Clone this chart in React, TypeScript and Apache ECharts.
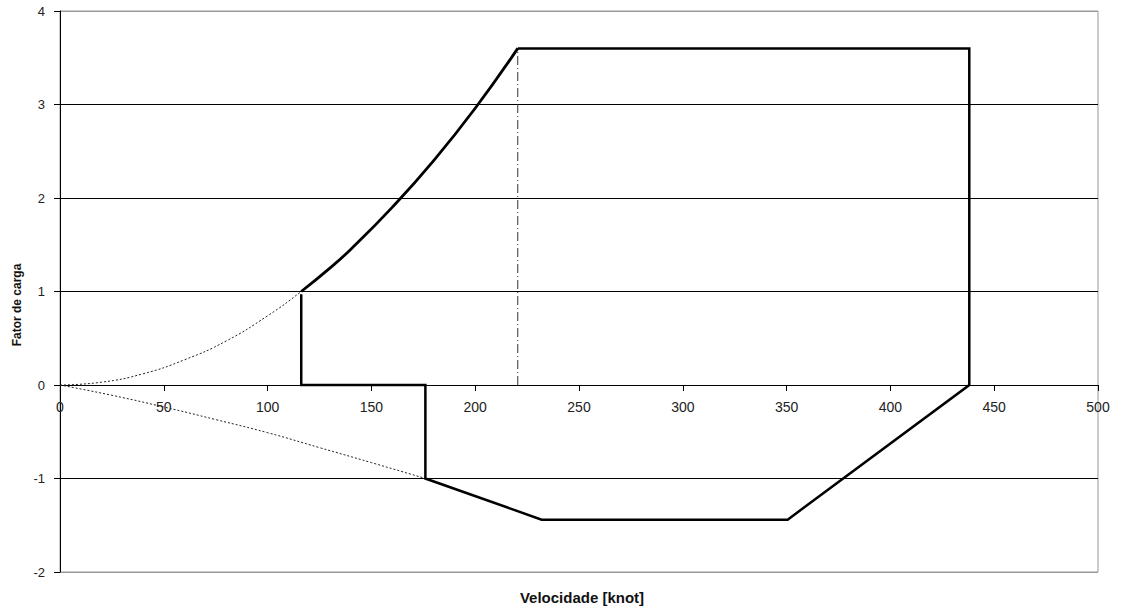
import React, { useEffect, useRef } from "react";
import * as echarts from "echarts";

// Positive stall curve (thin dotted)
const stallPosV = [0, 20, 40, 60, 80, 100, 116.2, 130, 140, 160, 180, 200, 220.5];
const stallPosN = [0, 0.03, 0.12, 0.27, 0.47, 0.74, 1.0, 1.25, 1.45, 1.9, 2.4, 2.96, 3.6];

// Negative stall curve (thin dotted)
const stallNegV = [0, 25, 50, 75, 100, 125, 150, 176];
const stallNegN = [0, -0.11, -0.235, -0.37, -0.51, -0.67, -0.83, -1.0];

// Thick envelope: curved part
const envCurveV = [116.2, 130, 140, 160, 180, 200, 220.5];
const envCurveN = [1.0, 1.25, 1.45, 1.9, 2.4, 2.96, 3.6];

// Thick envelope: straight segments
const envLineV = [220.5, 438, 438, 350.5, 232, 176, 176, 116.2, 116.2];
const envLineN = [3.6, 3.6, 0, -1.44, -1.44, -1.0, 0, 0, 0.97];

// Dash-dot vertical at manoeuvre speed
const vaV = [220.5, 220.5];
const vaN = [0, 3.6];

const xTicks = { min: 0, max: 500, interval: 50 };
const yTicks = { min: -2, max: 4, interval: 1 };

const zip = (a: number[], b: number[]) => a.map((v, i) => [v, b[i]]);

const GRID_TOP = 11;
const GRID_H = 561;

export default function App() {
  const ref = useRef<HTMLDivElement>(null);
  useEffect(() => {
    if (!ref.current) return;
    const chart = echarts.init(ref.current, undefined, { renderer: "svg" });
    const font = "'Liberation Sans', Arial, sans-serif";
    // distance of the zero line above the grid's bottom edge
    const zeroOffset = (GRID_H * (0 - yTicks.min)) / (yTicks.max - yTicks.min);
    chart.setOption({
      animation: false,
      backgroundColor: "#fff",
      grid: {
        left: 60,
        top: GRID_TOP,
        width: 1038,
        height: GRID_H,
        show: true,
        borderColor: "#999",
        borderWidth: 1,
      },
      xAxis: {
        type: "value",
        position: "bottom",
        offset: -zeroOffset,
        min: xTicks.min,
        max: xTicks.max,
        interval: xTicks.interval,
        axisLine: { show: true, onZero: false, lineStyle: { color: "#000", width: 1 } },
        axisTick: { show: true, length: 6, lineStyle: { color: "#000" } },
        axisLabel: { color: "#222", fontSize: 14, fontFamily: font, margin: 15 },
        splitLine: { show: false },
      },
      yAxis: {
        type: "value",
        min: yTicks.min,
        max: yTicks.max,
        interval: yTicks.interval,
        axisLine: { show: true, onZero: false, lineStyle: { color: "#000", width: 1 } },
        axisTick: { show: true, length: 6, lineStyle: { color: "#000" } },
        axisLabel: { color: "#222", fontSize: 13, fontFamily: font, margin: 15 },
        splitLine: {
          show: true,
          lineStyle: {
            color: ["#999", "#000", "#000", "#000", "#000", "#000", "#999"],
            width: 1,
          },
        },
      },
      graphic: [
        {
          type: "text",
          x: 17,
          y: 305,
          rotation: Math.PI / 2,
          style: {
            text: "Fator de carga",
            font: `bold 12px ${font}`,
            fill: "#111",
            textAlign: "center",
            textVerticalAlign: "middle",
          },
        },
        {
          type: "text",
          x: 582,
          y: 597,
          style: {
            text: "Velocidade [knot]",
            font: `bold 15px ${font}`,
            fill: "#111",
            textAlign: "center",
            textVerticalAlign: "middle",
          },
        },
      ],
      series: [
        {
          type: "line",
          data: zip(stallPosV, stallPosN),
          smooth: true,
          symbol: "none",
          lineStyle: { color: "#222", width: 1, type: [2, 2] },
          z: 2,
        },
        {
          type: "line",
          data: zip(stallNegV, stallNegN),
          smooth: true,
          symbol: "none",
          lineStyle: { color: "#222", width: 1, type: [2, 2] },
          z: 2,
        },
        {
          type: "line",
          data: zip(vaV, vaN),
          symbol: "none",
          lineStyle: { color: "#333", width: 1, type: [9, 3, 1, 3] },
          z: 2,
        },
        {
          type: "line",
          data: zip(envCurveV, envCurveN),
          smooth: true,
          symbol: "none",
          lineStyle: { color: "#000", width: 2.8 },
          z: 3,
        },
        {
          type: "line",
          data: zip(envLineV, envLineN),
          symbol: "none",
          lineStyle: { color: "#000", width: 2.5, join: "miter" },
          z: 3,
        },
      ],
    });
    return () => chart.dispose();
  }, []);
  return (
    <div
      ref={ref}
      style={{ position: "fixed", left: 0, top: 0, width: 1124, height: 612, background: "#fff" }}
    />
  );
}
